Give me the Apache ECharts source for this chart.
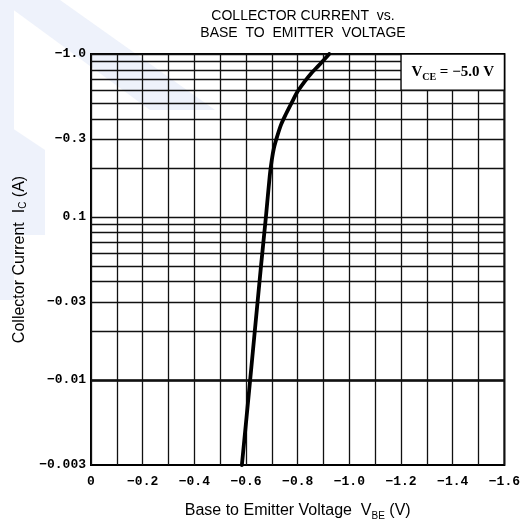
<!DOCTYPE html>
<html>
<head>
<meta charset="utf-8">
<script src="https://cdn.jsdelivr.net/npm/echarts@6/dist/echarts.min.js"></script>
<style>html,body{margin:0;padding:0;background:#fff}#c{width:523px;height:526px}</style>
</head>
<body>
<div id="c"></div>
<script>
// Base-emitter voltage (V) and collector current magnitude |Ic| (A)
var vbe = [-0.584, -0.616, -0.658, -0.677, -0.692, -0.700, -0.708, -0.720, -0.736, -0.755, -0.776, -0.800, -0.826, -0.852, -0.880, -0.922];
var ic  = [0.003, 0.010, 0.050, 0.10, 0.18, 0.225, 0.265, 0.31, 0.37, 0.43, 0.50, 0.59, 0.675, 0.76, 0.845, 1.0];
var xTickValues = [0, -0.2, -0.4, -0.6, -0.8, -1.0, -1.2, -1.4, -1.6];
var yTickValues = [0.003, 0.01, 0.03, 0.1, 0.3, 1.0];
var yTickLabels = ['−0.003', '−0.01', '−0.03', '0.1', '−0.3', '−1.0'];
var yGridLines = [0.003, 0.004, 0.005, 0.006, 0.007, 0.008, 0.009,
                  0.01, 0.02, 0.03, 0.04, 0.05, 0.06, 0.07, 0.08, 0.09,
                  0.1, 0.2, 0.3, 0.4, 0.5, 0.6, 0.7, 0.8, 0.9, 1.0];
var condition = {x1: -1.2, x2: -1.6, y1: 0.6, y2: 1.0, text: 'V{s|CE} = −5.0 V'};

var chart = echarts.init(document.getElementById('c'), null, {renderer: 'canvas'});
var pts = vbe.map(function (v, i) { return [v, ic[i]]; });
var tickFont = {fontFamily: 'Liberation Mono', fontWeight: 'bold', fontSize: 13, color: '#000'};

chart.setOption({
  backgroundColor: '#fff',
  animation: false,
  graphic: [
    {type: 'polygon', silent: true, z: -10, shape: {points: [[0,0],[60,0],[215,110],[150,110]]}, style: {fill: '#eef2fb'}},
    {type: 'polygon', silent: true, z: -10, shape: {points: [[0,0],[14,0],[14,300],[0,300]]}, style: {fill: '#eef2fb'}},
    {type: 'polygon', silent: true, z: -10, shape: {points: [[0,120],[45,150],[45,235],[0,235]]}, style: {fill: '#eef2fb'}}
  ],
  title: {
    text: 'COLLECTOR CURRENT  vs.\nBASE  TO  EMITTER  VOLTAGE',
    left: 298, top: 3, textAlign: 'center',
    textStyle: {fontFamily: 'Liberation Sans Narrow, Liberation Sans', fontWeight: 'normal', fontSize: 14, color: '#000', lineHeight: 17}
  },
  grid: {left: 91, right: 18, top: 54, bottom: 59, show: true, borderColor: '#000', borderWidth: 2, backgroundColor: 'transparent'},
  xAxis: {
    type: 'value', min: -1.6, max: 0, interval: 0.1, inverse: true,
    axisLine: {show: false}, axisTick: {show: false},
    splitLine: {show: true, lineStyle: {color: '#111', width: 1.3}},
    axisLabel: Object.assign({
      customValues: xTickValues, margin: 10,
      formatter: function (v) { return Math.abs(v) < 1e-9 ? '0' : '−' + Math.abs(v).toFixed(1); }
    }, tickFont),
    name: 'Base to Emitter Voltage  V{s|BE} (V)', nameLocation: 'middle', nameGap: 38,
    nameTextStyle: {fontFamily: 'Liberation Sans', fontSize: 16, color: '#000',
      rich: {s: {fontFamily: 'Liberation Sans', fontSize: 10, color: '#000', verticalAlign: 'bottom', padding: [0,0,-2,0]}}}
  },
  yAxis: {
    type: 'log', logBase: 10, min: 0.003, max: 1.0,
    axisLine: {show: false}, axisTick: {show: false}, splitLine: {show: false}, minorSplitLine: {show: false},
    axisLabel: Object.assign({
      customValues: yTickValues, margin: 5,
      formatter: function (v) {
        for (var i = 0; i < yTickValues.length; i++) { if (Math.abs(yTickValues[i] - v) / v < 1e-6) return yTickLabels[i]; }
        return '';
      }
    }, tickFont),
    name: 'Collector Current  I{s|C} (A)', nameLocation: 'middle', nameGap: 63,
    nameTextStyle: {fontFamily: 'Liberation Sans', fontSize: 16, color: '#000',
      rich: {s: {fontFamily: 'Liberation Sans', fontSize: 10, color: '#000', verticalAlign: 'bottom'}}}
  },
  series: [
    {
      type: 'line', data: [], silent: true, z: 1,
      markLine: {
        silent: true, symbol: 'none', animation: false, z: 1,
        label: {show: false},
        lineStyle: {color: '#111', width: 1.3, type: 'solid'},
        data: yGridLines.map(function (y) { return {yAxis: y}; })
      }
    },
    {
      type: 'line', data: [], silent: true, z: 4,
      markArea: {
        silent: true, z: 4,
        itemStyle: {color: '#fff', borderColor: '#000', borderWidth: 1.3},
        label: {show: true, position: 'inside', fontFamily: 'Liberation Serif', fontWeight: 'bold', fontSize: 15, color: '#000',
          rich: {s: {fontFamily: 'Liberation Serif', fontWeight: 'bold', fontSize: 10, color: '#000', verticalAlign: 'bottom', padding: [0,0,-3,0]}}},
        data: [[{xAxis: condition.x1, yAxis: condition.y1, name: condition.text}, {xAxis: condition.x2, yAxis: condition.y2}]]
      }
    },
    {
      type: 'line', data: pts, z: 6, symbol: 'none', smooth: 0.3,
      lineStyle: {color: '#000', width: 3.8, cap: 'round', join: 'round'}, clip: true
    }
  ]
});
</script>
</body>
</html>
